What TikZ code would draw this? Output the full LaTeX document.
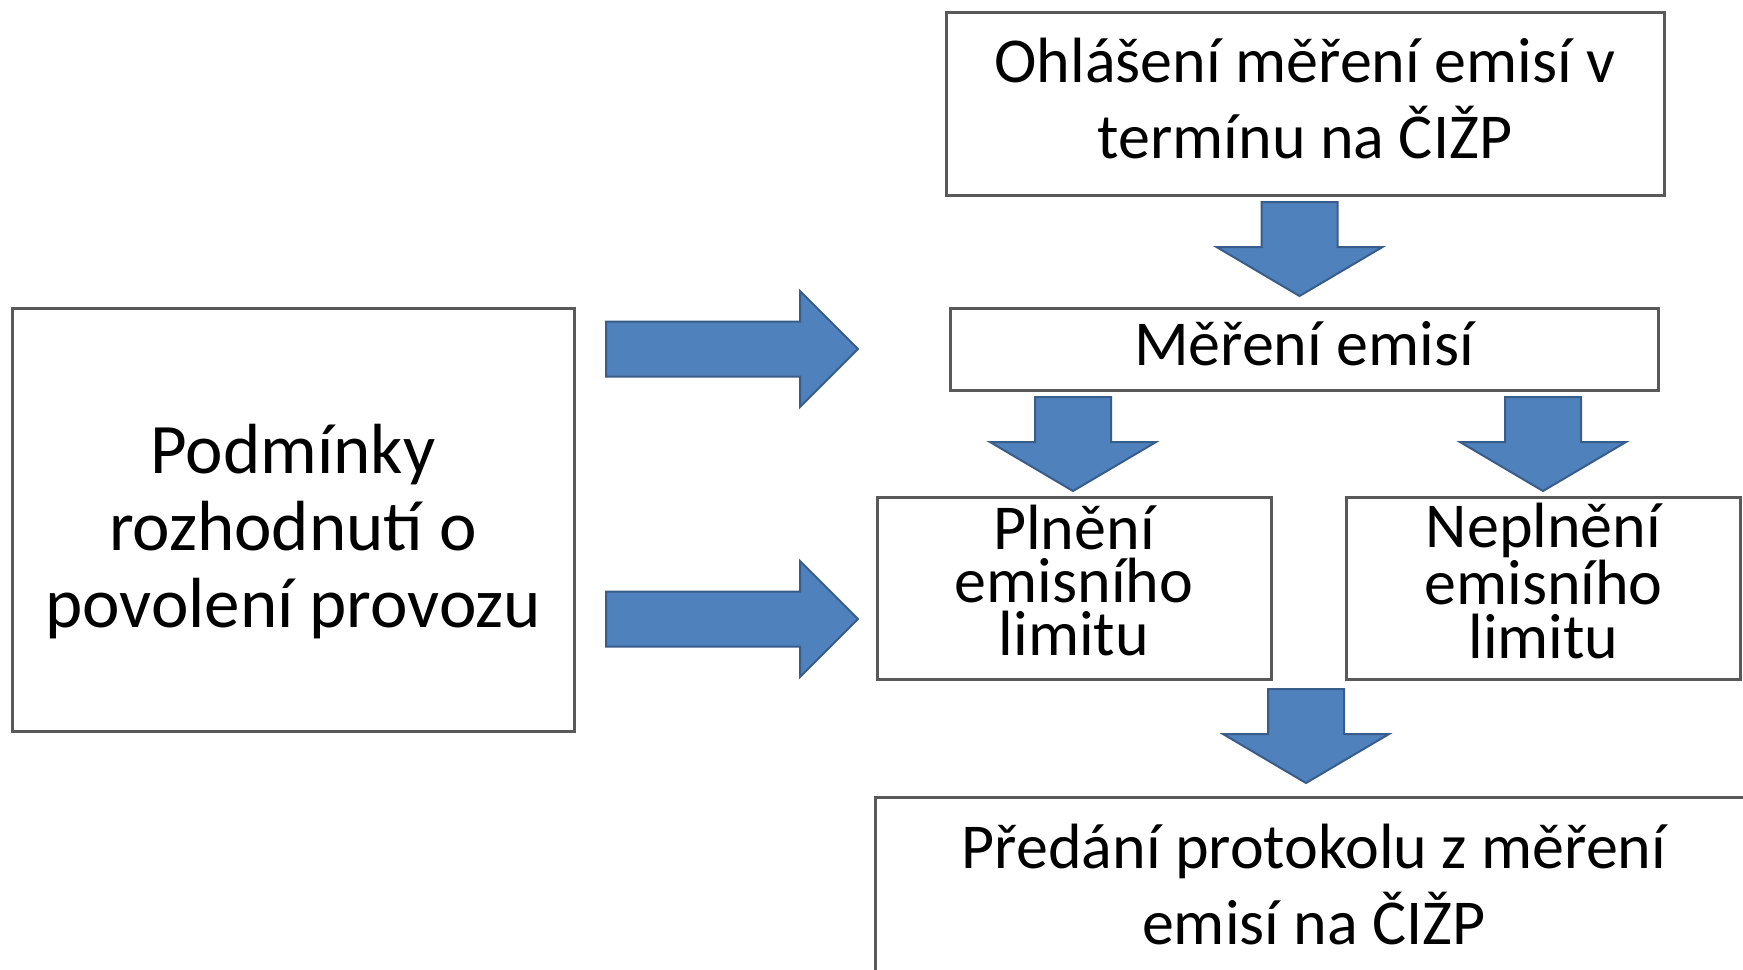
\documentclass[tikz,border=0pt]{standalone}
\usepackage{fontspec}
\setmainfont{Carlito}
\usepackage{tikz}
\usetikzlibrary{positioning}

\definecolor{boxgray}{HTML}{595959}
\definecolor{arrowfill}{HTML}{4F81BD}
\definecolor{arrowline}{HTML}{385D8A}

\begin{document}
\begin{tikzpicture}[x=0.5pt, y=-0.5pt,
	box/.style={draw=boxgray, line width=1.5pt, fill=white, align=center, inner sep=0pt,
		font=\fontsize{32}{38}\selectfont},
	limitbox/.style={box, minimum width=197pt, minimum height=91pt, text depth=7.8pt,
		font=\fontsize{32}{26.7}\selectfont},
	blok/.style={fill=arrowfill, draw=arrowline, line width=1pt, line join=miter}]
	
	\fill[white] (0,0) rectangle (1743,969);
	\useasboundingbox (0,0) rectangle (1743,969);
	\clip (0,0) rectangle (1743,969);
	
	\node (Podminky) [box, minimum width=281pt, minimum height=211.5pt, text height=113.5pt,
		font=\fontsize{35.5}{38.5}\selectfont] at (293,519.5)
		{Podmínky\\rozhodnutí o\\povolení provozu};
	
	\node (Ohlaseni) [box, minimum width=359pt, minimum height=91.5pt, text depth=5.5pt] at (1305,103.5)
		{Ohlášení měření emisí v\\termínu na ČIŽP};
	\node (Mereni) [box, minimum width=354pt, minimum height=41pt, text depth=5.5pt] at (1304,349)
		{Měření emisí};
	
	\node (Plneni) [limitbox] at (1074,588) {Plnění\\emisního\\limitu};
	\node (Neplneni) [limitbox] at (1543.5,588.5) {Neplnění\\emisního\\limitu};
	
	\node (Predani) [box, minimum width=439pt, minimum height=87pt] at (1314,884)
		{Předání protokolu z měření\\emisí na ČIŽP};
	
	% sipky dolu
	\foreach \x/\y in {1299.5/202, 1073/397, 1543/397, 1306/689}
		\draw[blok] (\x-38,\y) -- (\x+38,\y) -- (\x+38,\y+45) -- (\x+83,\y+45)
			-- (\x,\y+94) -- (\x-83,\y+45) -- (\x-38,\y+45) -- cycle;
	
	% sipky doprava
	\foreach \y in {349, 619}
		\draw[blok] (606,\y-27.5) -- (800,\y-27.5) -- (800,\y-58) -- (858,\y)
			-- (800,\y+58) -- (800,\y+27.5) -- (606,\y+27.5) -- cycle;
\end{tikzpicture}
\end{document}
